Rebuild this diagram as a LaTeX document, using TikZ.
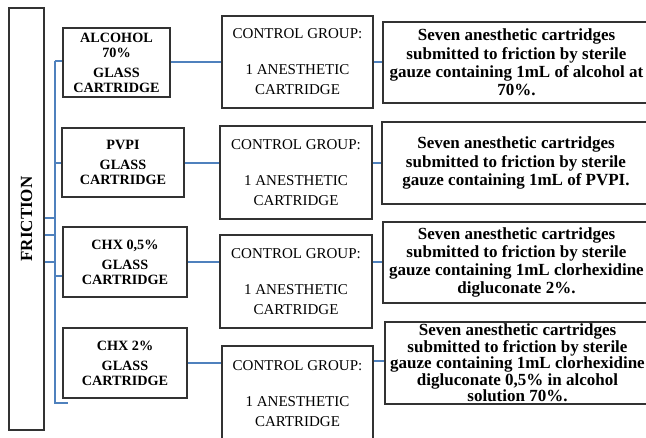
\documentclass[tikz,border=0pt]{standalone}
\usepackage{fontspec}
\setmainfont{Liberation Serif}
\usepackage{graphicx}
\usetikzlibrary{positioning}
\definecolor{linkblue}{RGB}{79,129,189}
\definecolor{boxgray}{RGB}{50,50,50}
\tikzstyle{sidebox} = [rectangle, draw=boxgray, line width=1.3pt, inner sep=0pt,
font=\fontsize{17}{18}\selectfont\bfseries]
\tikzstyle{groupbox} = [rectangle, draw=boxgray, line width=1.3pt, inner sep=0pt, minimum height=69pt,
align=center, font=\fontsize{14.2}{15}\selectfont\bfseries]
\tikzstyle{controlbox} = [rectangle, draw=boxgray, line width=1.3pt, inner sep=0pt, minimum width=152pt,
minimum height=93pt, align=center, font=\fontsize{15}{20}\selectfont]
\tikzstyle{descbox} = [rectangle, draw=boxgray, line width=1.3pt, inner sep=0pt, minimum width=267pt,
minimum height=81pt, align=center, font=\fontsize{17}{18.3}\selectfont\bfseries]
\tikzstyle{link} = [linkblue, line width=1.3pt]

\begin{document}
\begin{tikzpicture}[x=1pt, y=-1pt]
    \clip (0,0) rectangle (646,437);
    \node (fric) [sidebox, minimum width=35pt, minimum height=422pt] at (26.5,219) {\rotatebox{90}{FRICTION}};

    \node (g1) [groupbox, minimum width=107pt] at (116.5,62.5) {ALCOHOL\\70\%\\[5pt]GLASS\\CARTRIDGE};
    \node (g2) [groupbox, minimum width=122pt] at (123,162.5) {PVPI\\[5pt]GLASS\\CARTRIDGE};
    \node (g3) [groupbox, minimum width=124pt, minimum height=70pt] at (125,262) {CHX 0,5\%\\[5pt]GLASS\\CARTRIDGE};
    \node (g4) [groupbox, minimum width=124pt, minimum height=70pt] at (125,363) {CHX 2\%\\[5pt]GLASS\\CARTRIDGE};

    \node (c1) [controlbox, minimum width=151pt, minimum height=92pt] at (297.5,62) {CONTROL GROUP:\\[16pt]1 ANESTHETIC\\CARTRIDGE};
    \node (c2) [controlbox] at (296,172.5) {CONTROL GROUP:\\[16pt]1 ANESTHETIC\\CARTRIDGE};
    \node (c3) [controlbox] at (296,281.5) {CONTROL GROUP:\\[16pt]1 ANESTHETIC\\CARTRIDGE};
    \node (c4) [controlbox, minimum width=151pt, minimum height=96pt] at (297.5,394) {CONTROL GROUP:\\[16pt]1 ANESTHETIC\\CARTRIDGE};

    \node (d1) [descbox] at (516.5,62.5) {Seven anesthetic cartridges\\submitted to friction by sterile\\gauze containing 1mL of alcohol at\\70\%.};
    \node (d2) [descbox, minimum height=82pt, minimum width=268pt] at (516,163) {Seven anesthetic cartridges\\submitted to friction by sterile\\gauze containing 1mL of PVPI.};
    \node (d3) [descbox] at (516.5,262.5) {Seven anesthetic cartridges\\submitted to friction by sterile\\gauze containing 1mL clorhexidine\\digluconate 2\%.};
    \node (d4) [descbox, minimum height=82pt, minimum width=265pt, font=\fontsize{17}{16.6}\selectfont\bfseries] at (517.5,363) {Seven anesthetic cartridges\\submitted to friction by sterile\\gauze containing 1mL clorhexidine\\digluconate 0,5\% in alcohol\\solution 70\%.};

    % spine on the left
    \coordinate (sptop) at (55,61);
    \coordinate (spbot) at (55,403);
    \coordinate (spend) at (68,403);
    \draw[link] (sptop) -- (spbot) -- (spend);
    \draw[link] (fric.east |- 0,218) -- (sptop |- 0,218);
    \draw[link] (fric.east |- 0,235) -- (sptop |- 0,235);
    \draw[link] (fric.east |- 0,262) -- (sptop |- 0,262);
    \draw[link] (sptop) -- (g1.west |- sptop);
    \draw[link] (sptop |- 0,163) -- (g2.west |- 0,163);
    \draw[link] (sptop |- 0,276) -- (g3.west |- 0,276);

    % groups to controls
    \draw[link] (g1.east |- 0,62) -- (c1.west |- 0,62);
    \draw[link] (g2.east |- 0,163) -- (c2.west |- 0,163);
    \draw[link] (g3.east |- 0,262) -- (c3.west |- 0,262);
    \draw[link] (g4.east |- 0,363) -- (c4.west |- 0,363);

    % controls to descriptions
    \draw[link] (c1.east |- 0,62) -- (d1.west |- 0,62);
    \draw[link] (c2.east |- 0,163) -- (d2.west |- 0,163);
    \draw[link] (c3.east |- 0,262) -- (d3.west |- 0,262);
    \draw[link] (c4.east |- 0,361) -- (d4.west |- 0,361);
\end{tikzpicture}
\end{document}
